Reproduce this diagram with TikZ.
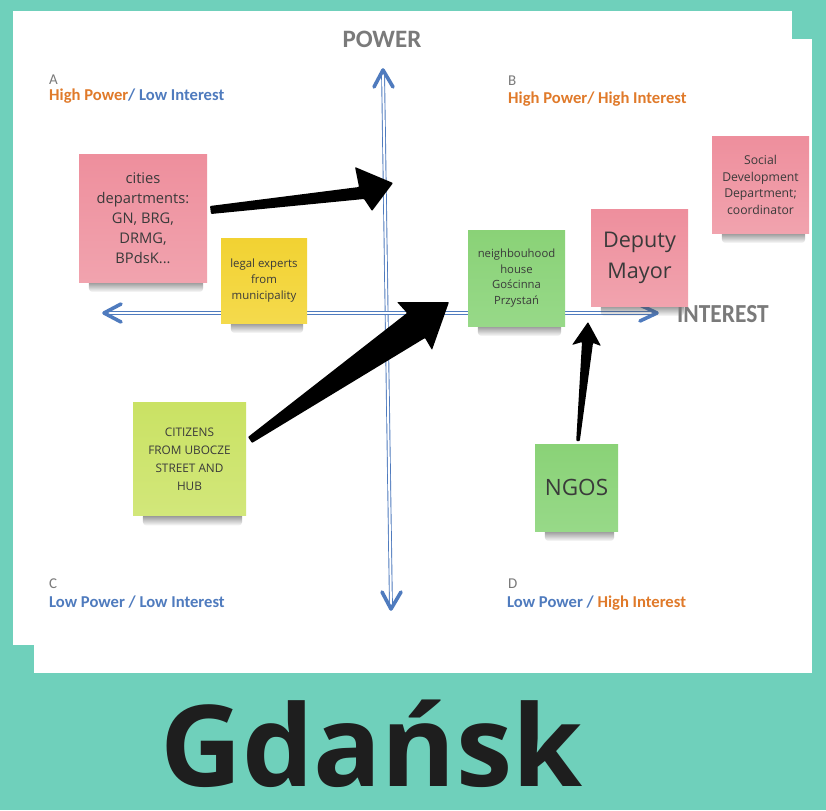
\documentclass[tikz,border=0pt]{standalone}
\usepackage{fontspec}
\setmainfont{Open Sans}
\newfontfamily\labfont{Carlito}
\usetikzlibrary{calc,fadings}
\definecolor{bgteal}{HTML}{6FD0BB}
\definecolor{axblue}{HTML}{4F7BBE}
\definecolor{laborange}{HTML}{E07A2A}
\definecolor{labblue}{HTML}{4F7BBE}
\definecolor{labgray}{HTML}{7A7A7A}
\definecolor{pinkT}{HTML}{EE8F9D}
\definecolor{pinkB}{HTML}{F1A3AE}
\definecolor{yelT}{HTML}{F2D232}
\definecolor{yelB}{HTML}{F4DA4C}
\definecolor{grnT}{HTML}{8AD277}
\definecolor{grnB}{HTML}{97D988}
\definecolor{limT}{HTML}{CAE264}
\definecolor{limB}{HTML}{D2E77A}
\definecolor{notetext}{HTML}{3A3A3A}
\definecolor{gtext}{HTML}{1E1E1E}
\tikzfading[name=shadfade, top color=transparent!25, bottom color=transparent!100]
\pgfdeclarelayer{bglayer}
\pgfdeclarelayer{shadlayer}
\pgfsetlayers{bglayer,shadlayer,main}
\tikzset{
  axisline/.style={draw=axblue, line width=0.9pt, double=white, double distance=2pt},
  chev/.style={draw=axblue, line width=3.6pt, line cap=round, line join=round},
  note/.style={inner sep=0pt, align=center, text=notetext},
  pinknote/.style={note, top color=pinkT, bottom color=pinkB},
  yelnote/.style={note, top color=yelT, bottom color=yelB},
  grnnote/.style={note, top color=grnT, bottom color=grnB},
  limnote/.style={note, top color=limT, bottom color=limB},
  qletter/.style={anchor=base west, inner sep=0pt, text=labgray, font=\labfont\fontsize{15}{15}\selectfont},
  qline/.style={anchor=base west, inner sep=0pt, font=\labfont\bfseries\fontsize{16.6}{16.6}\selectfont},
  axname/.style={inner sep=0pt, text=labgray, font=\labfont\bfseries\fontsize{25}{25}\selectfont},
  blackarrow/.style={fill=black, rounded corners=0.8pt},
  shadowband/.style={fill=black!70, path fading=shadfade, rounded corners=4pt}
}
\newcommand\noteshadow[1]{%
  \begin{pgfonlayer}{shadlayer}
  \fill[shadowband]
    ($(#1.south west)+(10,-3)$) rectangle ($(#1.south east)+(-4,10)$);
  \end{pgfonlayer}}
\begin{document}
\begin{tikzpicture}[x=1pt,y=-1pt]
\useasboundingbox (0,0) rectangle (826,810);
\begin{pgfonlayer}{bglayer}
\fill[bgteal] (0,0) rectangle (826,810);
\fill[white] (13,11) rectangle (792,645);
\fill[white] (34,39) rectangle (812,673);
\end{pgfonlayer}

% axis names
\node[axname, anchor=base] (power) at (382,48) {POWER};
\node[axname, anchor=base west, font=\labfont\bfseries\fontsize{26}{26}\selectfont] (interest) at (677,322) {\scalebox{0.9}[1]{INTEREST}};

% quadrant labels
\node[qletter] (qa) at (49,85) {A};
\node[qline] (qal) at (49,101) {\textcolor{laborange}{High Power}\textcolor{labblue}{/ Low Interest}};
\node[qletter] (qb) at (508,86) {B};
\node[qline, text=laborange] (qbl) at (508,104) {High Power/ High Interest};
\node[qletter] (qc) at (49,588) {C};
\node[qline, text=labblue] (qcl) at (49,607) {Low Power / Low Interest};
\node[qletter] (qd) at (508,588) {D};
\node[qline] (qdl) at (507,607) {\textcolor{labblue}{Low Power /} \textcolor{laborange}{High Interest}};

% axes
\begin{pgfonlayer}{bglayer}
\coordinate (vtop) at (383,70);
\coordinate (vbot) at (391,609);
\coordinate (hleft) at (104,313);
\coordinate (hright) at (657,313);
\draw[axisline, shorten <=4pt, shorten >=4pt] (vbot) -- (vtop);
\draw[axisline, shorten <=4pt, shorten >=4pt] (hleft) -- (hright);
\draw[chev] ($(vtop)+(-9,17)$) -- (vtop) -- ($(vtop)+(10,17)$);
\draw[chev] ($(vbot)+(-9,-17)$) -- (vbot) -- ($(vbot)+(10,-17)$);
\draw[chev] ($(hleft)+(17,-9)$) -- (hleft) -- ($(hleft)+(17,9)$);
\draw[chev] ($(hright)+(-17,-8)$) -- (hright) -- ($(hright)+(-17,8)$);
\end{pgfonlayer}

% sticky notes
\node[pinknote, minimum width=128pt, minimum height=127pt,
  font=\fontsize{14.7}{20}\selectfont] (cities) at (143,218.5)
  {cities\\departments:\\GN, BRG,\\DRMG,\\BPdsK...};
\noteshadow{cities}
\node[yelnote, minimum width=86pt, minimum height=85pt,
  font=\fontsize{11.4}{15.6}\selectfont] (legal) at (264,280.5)
  {legal experts\\from\\municipality};
\noteshadow{legal}
\node[grnnote, minimum width=97pt, minimum height=96pt,
  font=\fontsize{11.3}{15.5}\selectfont] (neigh) at (516.5,278)
  {neighbouhood\\house\\Gościnna\\Przystań};
\noteshadow{neigh}
\node[pinknote, minimum width=97pt, minimum height=96pt,
  font=\fontsize{21.6}{31}\selectfont] (deputy) at (639.5,258)
  {Deputy\\Mayor};
\noteshadow{deputy}
\node[pinknote, minimum width=97pt, minimum height=96pt,
  font=\fontsize{12.2}{16.7}\selectfont] (social) at (760.5,185)
  {Social\\Development\\Department;\\coordinator};
\noteshadow{social}
\node[limnote, minimum width=113pt, minimum height=113pt,
  font=\fontsize{11.8}{18}\selectfont] (citizens) at (189.5,459)
  {CITIZENS\\FROM UBOCZE\\STREET AND\\HUB};
\noteshadow{citizens}
\node[grnnote, minimum width=83pt, minimum height=87pt,
  font=\fontsize{22.5}{26}\selectfont] (ngos) at (576.5,487.5)
  {NGOS};
\noteshadow{ngos}

% arrows (tapered, hand-drawn look)
\coordinate (a1s) at (210,210);
\coordinate (a1t) at (393,183);
\fill[blackarrow] ($(a1s)+(0,-4)$) -- (359,187) -- (355,167) -- (a1t)
  -- (372,211) -- (364,199) -- ($(a1s)+(1,4)$) -- cycle;
\coordinate (a2s) at (250,440);
\coordinate (a2t) at (449,302);
\fill[blackarrow] ($(a2s)+(-2,-3)$) -- (407,313) -- (397,302) -- (a2t)
  -- (432,350) -- (425,338) -- ($(a2s)+(2,3)$) -- cycle;
\coordinate (a3s) at (578,441);
\coordinate (a3t) at (588,322);
\fill[blackarrow] ($(a3s)+(-1.8,0)$) -- (582,342) -- (572,345) -- (a3t)
  -- (601,346) -- (593,343) -- ($(a3s)+(1.8,0)$) -- cycle;

% city name
\node[anchor=base west, inner sep=0pt, text depth=0pt, text=gtext,
  font=\bfseries\fontsize{113}{113}\selectfont] (city) at (160,786) {Gdańsk};
\end{tikzpicture}
\end{document}
